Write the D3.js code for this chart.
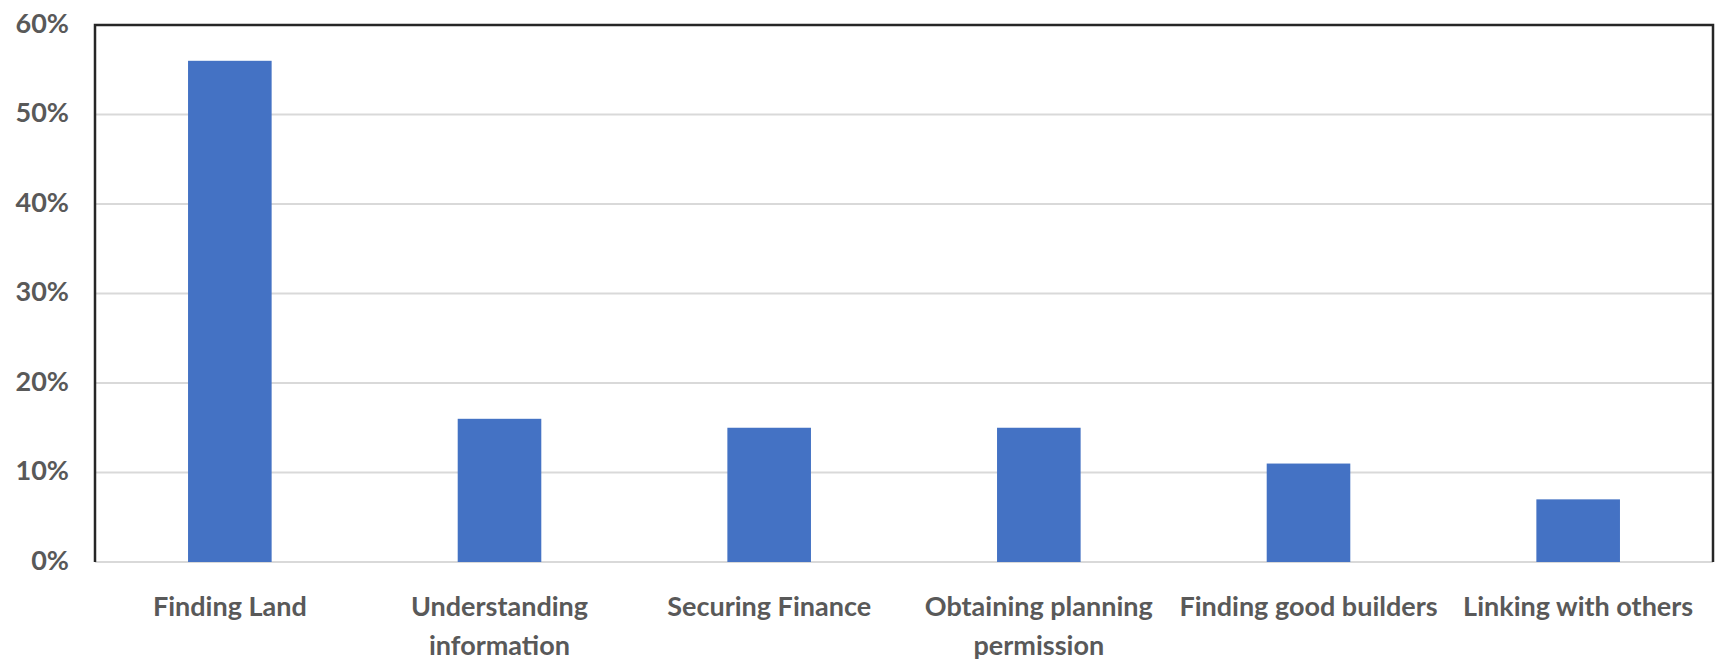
<!DOCTYPE html>
<html>
<head>
<meta charset="utf-8">
<script src="https://cdn.jsdelivr.net/npm/d3@7"></script>
<style>
  html, body { margin: 0; padding: 0; background: #fff; }
  svg { display: block; }
</style>
</head>
<body>
<svg id="chart" width="1716" height="663"></svg>
<script>
// Share of respondents naming each challenge
const categories = [
  ["Finding Land"],
  ["Understanding", "information"],
  ["Securing Finance"],
  ["Obtaining planning", "permission"],
  ["Finding good builders"],
  ["Linking with others"]
];
const values = [0.56, 0.16, 0.15, 0.15, 0.11, 0.07];
const yTicks = [0, 0.1, 0.2, 0.3, 0.4, 0.5, 0.6];

const width = 1716, height = 663;
const margin = { top: 25, right: 3, bottom: 101, left: 95 };
const innerW = width - margin.left - margin.right;
const innerH = height - margin.top - margin.bottom;

const svg = d3.select("#chart");
const g = svg.append("g").attr("transform", `translate(${margin.left},${margin.top})`);

const x = d3.scaleBand()
  .domain(d3.range(categories.length))
  .range([0, innerW])
  .paddingInner(0.69)
  .paddingOuter(0.345);

const y = d3.scaleLinear().domain([0, 0.6]).range([innerH, 0]);

const fontFamily = "Lato, 'Open Sans', sans-serif";
const textColor = "#595959";

// Horizontal gridlines
g.append("g")
  .selectAll("line")
  .data(yTicks)
  .join("line")
  .attr("x1", 0)
  .attr("x2", innerW)
  .attr("y1", d => y(d))
  .attr("y2", d => y(d))
  .attr("stroke", "#d9d9d9")
  .attr("stroke-width", 2);

// Bars
g.append("g")
  .selectAll("rect")
  .data(values)
  .join("rect")
  .attr("x", (d, i) => x(i))
  .attr("width", x.bandwidth())
  .attr("y", d => y(d))
  .attr("height", d => innerH - y(d))
  .attr("fill", "#4472c4");

// Plot frame (left, top, right)
g.append("path")
  .attr("d", `M0,${innerH}V0H${innerW}V${innerH}`)
  .attr("fill", "none")
  .attr("stroke", "#262626")
  .attr("stroke-width", 2.5);

// Y axis labels
const yAxis = d3.axisLeft(y)
  .tickValues(yTicks)
  .tickFormat(d3.format(".0%"))
  .tickSize(0)
  .tickPadding(26);

g.append("g")
  .call(yAxis)
  .call(s => s.select(".domain").remove())
  .selectAll("text")
  .attr("font-family", fontFamily)
  .attr("font-weight", 700)
  .attr("font-size", 27)
  .attr("fill", textColor)
  .attr("dy", "0.27em");

// X axis labels (wrapped onto lines)
const xLabels = g.append("g")
  .selectAll("text")
  .data(categories)
  .join("text")
  .attr("x", (d, i) => x(i) + x.bandwidth() / 2)
  .attr("y", innerH + 54)
  .attr("text-anchor", "middle")
  .attr("font-family", fontFamily)
  .attr("font-weight", 700)
  .attr("font-size", 27)
  .attr("fill", textColor);

xLabels.selectAll("tspan")
  .data((d, i) => d.map(line => ({ line, i })))
  .join("tspan")
  .attr("x", d => x(d.i) + x.bandwidth() / 2)
  .attr("dy", (d, j) => j === 0 ? 0 : 39)
  .text(d => d.line);
</script>
</body>
</html>
